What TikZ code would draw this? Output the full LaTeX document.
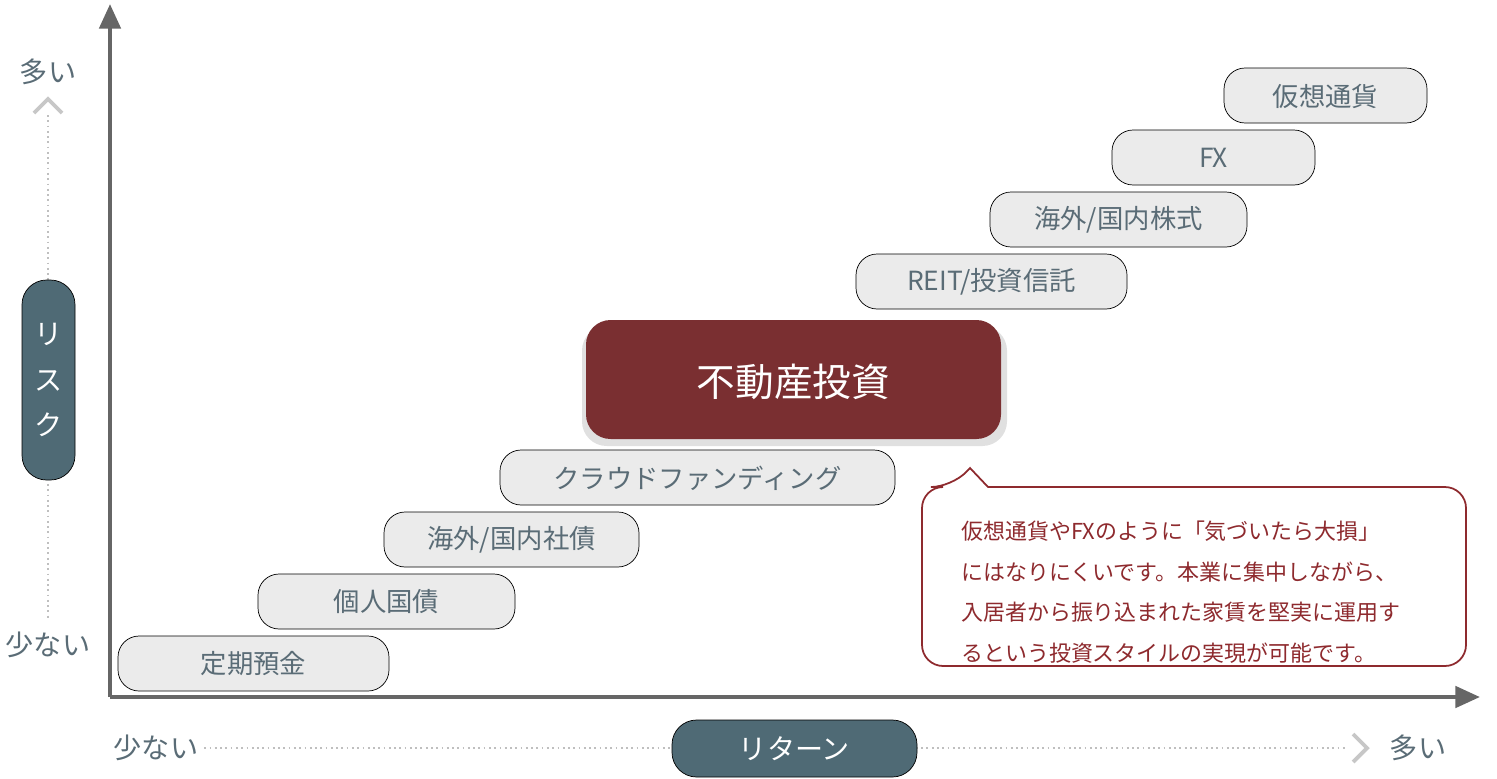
\documentclass[tikz,border=0pt]{standalone}
\usepackage{fontspec}
\setmainfont{Noto Sans CJK JP}
\usetikzlibrary{arrows.meta,shadows}
\definecolor{txtgray}{HTML}{5A6C76}
\definecolor{pillblue}{HTML}{4F6A75}
\definecolor{boxgray}{HTML}{EBEBEB}
\definecolor{mainred}{HTML}{7A2F31}
\definecolor{notered}{HTML}{8E2A2E}
\definecolor{axisgray}{HTML}{666666}
\tikzset{
  asset/.style={fill=boxgray, rounded corners=12pt, text=txtgray, font=\fontsize{15}{15}\selectfont},
  pill/.style={fill=pillblue, rounded corners=14pt, text=white, font=\fontsize{16}{18}\selectfont},
  axislabel/.style={text=txtgray, font=\fontsize{16}{16}\selectfont},
  guide/.style={draw=black!25, dotted, line width=1pt},
  chev/.style={draw=black!22, line width=2.2pt}
}
\begin{document}
\begin{tikzpicture}[x=0.02cm,y=-0.02cm]
  \useasboundingbox (0,0) rectangle (1497,778);
  % axes
  \coordinate (o) at (110,697);
  \coordinate (ytop) at (110,4);
  \coordinate (xend) at (1480,697);
  \draw[axisgray, line width=2.5pt, -{Triangle[length=14pt,width=12pt]}] (o) -- (ytop);
  \draw[axisgray, line width=2.5pt, -{Triangle[length=14pt,width=12pt]}] (o) -- (xend);

  % risk guide
  \node[axislabel] (ymore) at (48,72) {多い};
  \node[axislabel] (yless) at (48,645) {少ない};
  \draw[guide] (48,115) -- (48,620);
  \draw[chev] (34,113) -- (48,99) -- (62,113);
  \draw[pill] (22,280) rectangle (75,480);
  \node[text=white, font=\fontsize{16}{26}\selectfont, align=center] (risk) at (48.5,380) {リ\\ス\\ク};

  % return guide
  \node[axislabel] (xless) at (156,748) {少ない};
  \node[axislabel] (xmore) at (1418,748) {多い};
  \draw[guide] (xless.east) -- (1345,748);
  \draw[chev] (1353,734) -- (1367,748) -- (1353,762);
  \draw[pill] (672,720) rectangle (917,777);
  \node[text=white, font=\fontsize{16}{18}\selectfont] (ret) at (794.5,748.5) {リターン};

  % assets
  \draw[asset] (118,636) rectangle (389,691);
  \node[text=txtgray, font=\fontsize{15}{15}\selectfont] (a1) at (253.5,664) {定期預金};
  \draw[asset] (258,574) rectangle (515,629);
  \node[text=txtgray, font=\fontsize{15}{15}\selectfont] (a2) at (386.5,602) {個人国債};
  \draw[asset] (384,512) rectangle (639,567);
  \node[text=txtgray, font=\fontsize{15}{15}\selectfont] (a3) at (511.5,540) {海外/国内社債};
  \draw[asset] (500,450) rectangle (895,505);
  \node[text=txtgray, font=\fontsize{15}{15}\selectfont] (a4) at (697.5,478) {クラウドファンディング};
  \draw[asset] (856,254) rectangle (1127,309);
  \node[text=txtgray, font=\fontsize{15}{15}\selectfont] (a6) at (991.5,282) {REIT/投資信託};
  \draw[asset] (990,192) rectangle (1247,247);
  \node[text=txtgray, font=\fontsize{15}{15}\selectfont] (a7) at (1118.5,220) {海外/国内株式};
  \draw[asset] (1112,130) rectangle (1315,185);
  \node[text=txtgray, font=\fontsize{15}{15}\selectfont] (a8) at (1213.5,158) {FX};
  \draw[asset] (1224,68) rectangle (1427,123);
  \node[text=txtgray, font=\fontsize{15}{15}\selectfont] (a9) at (1325.5,96) {仮想通貨};

  % highlighted asset
  \fill[black!12, rounded corners=14pt] (582,326) rectangle (1007,446);
  \fill[mainred, rounded corners=14pt] (586,320) rectangle (1001,439);
  \node[text=white, font=\fontsize{22}{22}\selectfont] (a5) at (793.5,382) {不動産投資};

  % note
  \draw[notered, line width=1pt, fill=white, rounded corners=12pt]
    (922,487) -- (952,487) [sharp corners] -- (970,468) -- (988,487) [rounded corners=12pt]
    -- (1466,487) -- (1466,666) -- (922,666) -- cycle;
  \node[text=notered, font=\fontsize{12.5}{23}\selectfont, align=left, anchor=north west] (note) at (955,515)
    {仮想通貨やFXのように「気づいたら大損」\\にはなりにくいです。本業に集中しながら、\\入居者から振り込まれた家賃を堅実に運用す\\るという投資スタイルの実現が可能です。};
\end{tikzpicture}
\end{document}
